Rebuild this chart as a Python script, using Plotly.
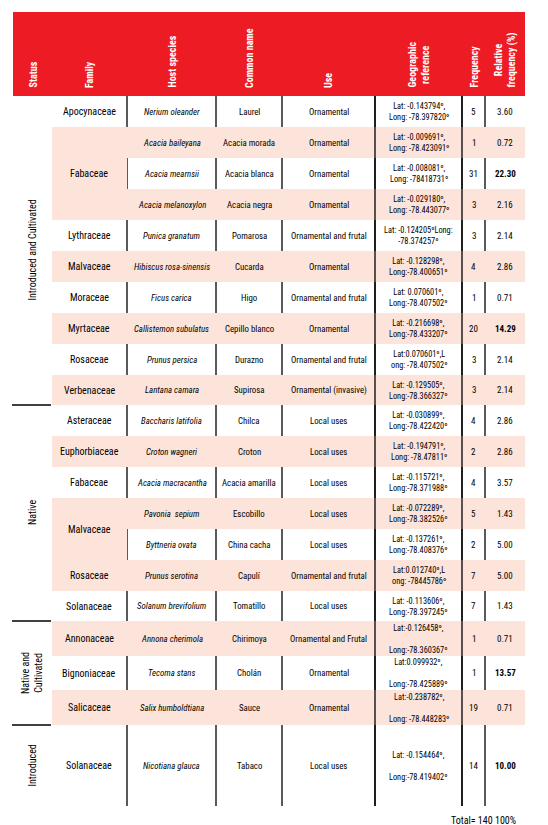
import plotly.graph_objects as go

headers = ["Status", "Family", "Host species", "Common name", "Use",
           "Geographic<br>reference", "Frequency", "Relative<br>frequency (%)"]
status_labels = ["Introduced and Cultivated", "Native", "Native and<br>Cultivated", "Introduced"]
status_spans = [(0, 9), (10, 16), (17, 19), (20, 20)]
families = ["Apocynaceae", "Fabaceae", "Lythraceae", "Malvaceae", "Moraceae", "Myrtaceae",
            "Rosaceae", "Verbenaceae", "Asteraceae", "Euphorbiaceae", "Fabaceae", "Malvaceae",
            "Rosaceae", "Solanaceae", "Annonaceae", "Bignoniaceae", "Salicaceae", "Solanaceae"]
family_spans = [(0, 0), (1, 3), (4, 4), (5, 5), (6, 6), (7, 7), (8, 8), (9, 9), (10, 10),
                (11, 11), (12, 12), (13, 14), (15, 15), (16, 16), (17, 17), (18, 18), (19, 19), (20, 20)]
species = ["Nerium oleander", "Acacia baileyana", "Acacia mearnsii", "Acacia melanoxylon",
           "Punica granatum", "Hibiscus rosa-sinensis", "Ficus carica", "Callistemon subulatus",
           "Prunus persica", "Lantana camara", "Baccharis latifolia", "Croton wagneri",
           "Acacia macracantha", "Pavonia  sepium", "Byttneria ovata", "Prunus serotina",
           "Solanum brevifolium", "Annona cherimola", "Tecoma stans", "Salix humboldtiana",
           "Nicotiana glauca"]
common = ["Laurel", "Acacia morada", "Acacia blanca", "Acacia negra", "Pomarosa", "Cucarda",
          "Higo", "Cepillo blanco", "Durazno", "Supirosa", "Chilca", "Croton", "Acacia amarilla",
          "Escobillo", "China cacha", "Capulí", "Tomatillo", "Chirimoya", "Cholán", "Sauce", "Tabaco"]
uses = ["Ornamental", "Ornamental", "Ornamental", "Ornamental", "Ornamental and frutal",
        "Ornamental", "Ornamental and frutal", "Ornamental", "Ornamental and frutal",
        "Ornamental (invasive)", "Local uses", "Local uses", "Local uses", "Local uses",
        "Local uses", "Ornamental and frutal", "Local uses", "Ornamental and Frutal",
        "Ornamental", "Ornamental", "Local uses"]
geo = ["Lat: -0.143794º,<br>Long: -78.397820º", "Lat: -0.009691º,<br>Long: -78.423091º",
       "Lat: -0.008081º,<br>Long: -78418731º", "Lat: -0.029180º,<br>Long: -78.443077º",
       "Lat: -0.124205ºLong:<br>-78.374257º", "Lat: -0.128298º,<br>Long:-78.400651º",
       "Lat: 0.070601º,<br>Long:-78.407502º", "Lat: -0.216698º,<br>Long:-78.433207º",
       "Lat:0.070601º,L<br>ong: -78.407502º", "Lat: -0.129505º,<br>Long:-78.366327º",
       "Lat: -0.030899º,<br>Long:-78.422420º", "Lat: -0.194791º,<br>Long: -78.47811º",
       "Lat: -0.115721º,<br>Long:-78.371988º", "Lat: -0.072289º,<br>Long:-78.382526º",
       "Lat: -0.137261º,<br>Long:-78.408376º", "Lat:0.012740º,L<br>ong: -78445786º",
       "Lat: -0.113606º,<br>Long:-78.397245º", "Lat:-0.126458º,<br><br>Long:-78.360367º",
       "Lat:0.099932º,<br><br>Long:-78.425889º", "Lat:-0.238782º,<br><br>Long: -78.448283º",
       "Lat: -0.154464º,<br><br>Long:-78.419402º"]
freq = [5, 1, 31, 3, 3, 4, 1, 20, 3, 3, 4, 2, 4, 5, 2, 7, 7, 1, 1, 19, 14]
rel = ["3.60", "0.72", "22.30", "2.16", "2.14", "2.86", "0.71", "14.29", "2.14", "2.14",
       "2.86", "2.86", "3.57", "1.43", "5.00", "5.00", "1.43", "0.71", "13.57", "0.71", "10.00"]
bold_rel = ["22.30", "14.29", "13.57", "10.00"]
total_text = "Total= 140 100%"

# layout geometry (pixels)
row_edges = [88, 119, 150, 181, 212, 243, 274, 305, 336, 367, 397, 428, 459, 490, 521,
             552, 583, 613, 648, 682, 717, 798]
col_edges = [5, 44, 119, 208, 274, 367, 454, 477, 517]
shaded = [1, 3, 5, 7, 9, 11, 13, 15, 17, 19]
RED = "#ed1c24"
SHADE = "#fce4da"
FONT = "Liberation Sans Narrow, Roboto Condensed, DejaVu Sans Condensed, Liberation Sans, Arial"

shapes, ann = [], []
shapes.append(dict(type="rect", x0=5, x1=517, y0=4, y1=88, fillcolor=RED, line_width=0))

for x in col_edges[2:-1]:
    shapes.append(dict(type="line", x0=x, x1=x, y0=row_edges[0], y1=row_edges[-1],
                       line=dict(color="black", width=1.3)))
for i in shaded:
    shapes.append(dict(type="rect", x0=44, x1=517, y0=row_edges[i], y1=row_edges[i + 1],
                       fillcolor=SHADE, line_width=0))
for (a, b) in family_spans:
    if b > a:
        shapes.append(dict(type="rect", x0=44, x1=119, y0=row_edges[a], y1=row_edges[b + 1],
                           fillcolor=SHADE, line_width=0))
for x in [367, 454]:
    shapes.append(dict(type="line", x0=x, x1=x, y0=row_edges[0], y1=row_edges[-1],
                       line=dict(color="black", width=1.3)))
for (a, b) in status_spans[1:]:
    shapes.append(dict(type="line", x0=4, x1=43, y0=row_edges[a], y1=row_edges[a],
                       line=dict(color="black", width=1.3)))

for j, h in enumerate(headers):
    xc = (col_edges[j] + col_edges[j + 1]) / 2
    ann.append(dict(x=xc, y=82, text="<b>" + h + "</b>", textangle=-90, showarrow=False,
                    yanchor="bottom", xanchor="center", font=dict(color="white", size=10, family=FONT)))

for lab, (a, b) in zip(status_labels, status_spans):
    ann.append(dict(x=24, y=(row_edges[a] + row_edges[b + 1]) / 2, text=lab, textangle=-90,
                    showarrow=False, font=dict(size=10, family=FONT, color="black")))
for fam, (a, b) in zip(families, family_spans):
    ann.append(dict(x=81, y=(row_edges[a] + row_edges[b + 1]) / 2, text=fam, showarrow=False,
                    font=dict(size=10, family=FONT, color="black")))

for i in range(len(species)):
    yc = (row_edges[i] + row_edges[i + 1]) / 2
    cells = ["<i>" + species[i] + "</i>", common[i], uses[i], geo[i], str(freq[i]),
             "<b>" + rel[i] + "</b>" if rel[i] in bold_rel else rel[i]]
    sizes = [8.8, 8.8, 8.8, 8.3, 9, 9]
    for k, t in enumerate(cells):
        xc = (col_edges[k + 2] + col_edges[k + 3]) / 2
        ann.append(dict(x=xc, y=yc, text=t, showarrow=False,
                        font=dict(size=sizes[k], family=FONT, color="black")))

ann.append(dict(x=510, y=812, text=total_text, showarrow=False, xanchor="right",
                font=dict(size=10, family=FONT, color="black")))

fig = go.Figure()
fig.update_layout(width=548, height=825, margin=dict(l=0, r=0, t=0, b=0),
                  paper_bgcolor="white", plot_bgcolor="white", shapes=shapes, annotations=ann,
                  xaxis=dict(range=[0, 548], visible=False, fixedrange=True),
                  yaxis=dict(range=[825, 0], visible=False, fixedrange=True),
                  showlegend=False)
fig.write_html("out.html")
